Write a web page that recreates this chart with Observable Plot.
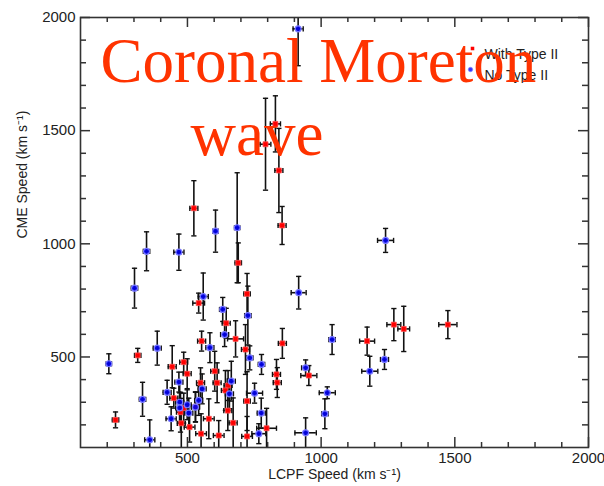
<!DOCTYPE html>
<html>
<head>
<meta charset="utf-8">
<script src="https://cdn.jsdelivr.net/npm/d3@7"></script>
<script src="https://cdn.jsdelivr.net/npm/@observablehq/plot@0.6"></script>
<style>
  html, body { margin: 0; padding: 0; background: white; }
  #chart { width: 604px; height: 486px; }
</style>
</head>
<body>
<div id="chart"></div>
<script>
// ---- Data: With Type II (red) ----
const withX    = [829, 792, 842, 854, 524, 690, 723, 542, 645, 680, 553, 717, 855, 314, 231, 443, 486, 499, 449, 474, 477, 508, 551, 549, 611, 652, 642, 486, 580, 617, 651, 671, 723, 723, 796, 833, 836, 954, 1172, 1272, 1309, 1474, 602, 530];
const withY    = [1530, 1440, 1324, 1081, 1157, 916, 779, 738, 649, 580, 570, 533, 560, 507, 222, 457, 477, 426, 318, 256, 207, 190, 161, 386, 386, 374, 352, 274, 227, 153, 263, 209, 305, 149, 185, 423, 387, 418, 570, 643, 624, 643, 437, 280];
const withXerr = [19, 20, 15, 15, 15, 12, 12, 22, 15, 30, 15, 15, 15, 12, 12, 15, 15, 15, 15, 15, 15, 20, 20, 15, 15, 15, 15, 15, 20, 20, 15, 15, 12, 20, 37, 15, 15, 30, 28, 26, 22, 34, 15, 15];
const withYerr = [124, 203, 186, 84, 122, 88, 90, 44, 66, 80, 44, 110, 66, 31, 35, 93, 44, 66, 44, 88, 110, 66, 88, 66, 88, 66, 88, 66, 88, 66, 88, 110, 130, 88, 88, 66, 66, 44, 62, 71, 100, 62, 88, 66];

// ---- Data: No Type II (blue) ----
const noX    = [914, 605, 686, 347, 468, 302, 559, 632, 726, 639, 916, 1241, 387, 206, 332, 359, 584, 733, 777, 424, 468, 471, 499, 505, 439, 542, 555, 664, 657, 751, 776, 767, 530, 942, 1041, 1182, 1237, 1023, 1014, 942, 471];
const noY    = [1950, 1056, 1071, 967, 963, 804, 767, 710, 683, 599, 784, 1015, 539, 470, 313, 134, 541, 496, 467, 344, 389, 300, 289, 252, 227, 308, 359, 393, 337, 340, 252, 161, 278, 452, 577, 437, 489, 342, 249, 165, 275];
const noXerr = [19, 10, 10, 12, 19, 12, 19, 12, 12, 15, 28, 30, 15, 10, 12, 19, 15, 12, 12, 15, 15, 15, 15, 15, 19, 15, 15, 15, 15, 30, 15, 26, 15, 15, 12, 30, 15, 30, 12, 40, 15];
const noYerr = [163, 93, 243, 86, 80, 88, 104, 53, 130, 53, 72, 53, 75, 44, 75, 88, 66, 53, 44, 53, 44, 88, 66, 66, 53, 66, 66, 88, 66, 44, 66, 44, 66, 35, 66, 66, 44, 26, 66, 66, 66];

// ---- Axis ticks / labels ----
const xMajor = [500, 1000, 1500, 2000];
const xMinor = [200, 300, 400, 600, 700, 800, 900, 1100, 1200, 1300, 1400, 1600, 1700, 1800, 1900];
const yMajor = [500, 1000, 1500, 2000];
const yMinor = [200, 300, 400, 600, 700, 800, 900, 1100, 1200, 1300, 1400, 1600, 1700, 1800, 1900];
const xTitle = "LCPF Speed (km s\u207B\u00B9)";
const yTitle = "CME Speed (km s\u207B\u00B9)";
const legendLabels = ["With Type II", "No Type II"];
const overlayLines = ["Coronal Moreton", "wave"];

// build records
const withData = withX.map((x, i) => ({x, y: withY[i], xe: withXerr[i], ye: withYerr[i]}));
const noData = noX.map((x, i) => ({x, y: noY[i], xe: noXerr[i], ye: noYerr[i]}));
const allData = withData.concat(noData);

// cap symbols
const capH = {draw(ctx, size) { const r = Math.sqrt(size / Math.PI); ctx.moveTo(-r, 0); ctx.lineTo(r, 0); }};
const capV = {draw(ctx, size) { const r = Math.sqrt(size / Math.PI); ctx.moveTo(0, -r); ctx.lineTo(0, r); }};

const W = 604, H = 486, ML = 80, MR = 16, MT = 17, MB = 39;
const IW = W - ML - MR, IH = H - MT - MB;
const ink = "#222";

const chart = Plot.plot({
  width: W, height: H,
  marginLeft: ML, marginRight: MR, marginTop: MT, marginBottom: MB,
  style: {fontFamily: "'Liberation Sans', Arial, sans-serif", fontSize: "15px", color: ink, background: "white", overflow: "visible"},
  x: {domain: [100, 2000]},
  y: {domain: [100, 2000]},
  marks: [
    // error bars
    Plot.ruleX(allData, {x: "x", y1: d => d.y - d.ye, y2: d => d.y + d.ye, stroke: "#111", strokeWidth: 1.6, clip: true}),
    Plot.ruleY(allData, {y: "y", x1: d => d.x - d.xe, x2: d => d.x + d.xe, stroke: "#111", strokeWidth: 1.6, clip: true}),
    Plot.dot(allData, {x: "x", y: d => d.y + d.ye, symbol: capH, r: 2.6, stroke: "#111", fill: "none", strokeWidth: 1.4, clip: true}),
    Plot.dot(allData, {x: "x", y: d => d.y - d.ye, symbol: capH, r: 2.6, stroke: "#111", fill: "none", strokeWidth: 1.4, clip: true}),
    Plot.dot(allData, {x: d => d.x - d.xe, y: "y", symbol: capV, r: 2.6, stroke: "#111", fill: "none", strokeWidth: 1.4, clip: true}),
    Plot.dot(allData, {x: d => d.x + d.xe, y: "y", symbol: capV, r: 2.6, stroke: "#111", fill: "none", strokeWidth: 1.4, clip: true}),
    // points
    Plot.dot(withData, {x: "x", y: "y", symbol: "square", r: 2.8, fill: "#ff0000", stroke: "#ff5050", strokeWidth: 0.8}),
    Plot.dot(noData, {x: "x", y: "y", r: 3, fill: "#0000ee", stroke: "#7b7bff", strokeWidth: 1.2, fillOpacity: 0.9}),
    // frame
    Plot.frame({stroke: "#333", strokeWidth: 1.6}),
    // ticks (inward, mirrored)
    Plot.tickX(xMajor, {x: d => d, insetTop: IH - 10, stroke: "#333", strokeWidth: 1.5}),
    Plot.tickX(xMinor, {x: d => d, insetTop: IH - 5, stroke: "#333", strokeWidth: 1.5}),
    Plot.tickX(xMajor, {x: d => d, insetBottom: IH - 10, stroke: "#333", strokeWidth: 1.5}),
    Plot.tickX(xMinor, {x: d => d, insetBottom: IH - 5, stroke: "#333", strokeWidth: 1.5}),
    Plot.tickY(yMajor, {y: d => d, insetRight: IW - 10, stroke: "#333", strokeWidth: 1.5}),
    Plot.tickY(yMinor, {y: d => d, insetRight: IW - 6, stroke: "#333", strokeWidth: 1.5}),
    Plot.tickY(yMajor, {y: d => d, insetLeft: IW - 10, stroke: "#333", strokeWidth: 1.5}),
    Plot.tickY(yMinor, {y: d => d, insetLeft: IW - 6, stroke: "#333", strokeWidth: 1.5}),
    // tick labels
    Plot.axisX({ticks: xMajor, tickSize: 0, tickPadding: 5, tickFormat: d => String(d), label: null, fontSize: 15}),
    Plot.axisY({ticks: yMajor, tickSize: 0, tickPadding: 5, tickFormat: d => String(d), label: null, fontSize: 15}),
    // axis titles
    Plot.text([xTitle], {text: d => d, frameAnchor: "bottom", dy: 31, fontSize: 14, fill: ink}),
    Plot.text([yTitle], {text: d => d, frameAnchor: "left", dx: -58, dy: 6, rotate: -90, fontSize: 14, fill: ink}),
    // legend
    Plot.dot([legendLabels[0]], {frameAnchor: "top-left", dx: 392, dy: 31, symbol: "square", r: 2, fill: "#ff0000"}),
    Plot.dot([legendLabels[1]], {frameAnchor: "top-left", dx: 390, dy: 52, r: 2.2, fill: "#3333ff", stroke: "#8888ff", strokeWidth: 0.8}),
    Plot.text([legendLabels[0]], {text: d => d, frameAnchor: "top-left", dx: 404, dy: 32, textAnchor: "start", fontSize: 14, fill: ink}),
    Plot.text([legendLabels[1]], {text: d => d, frameAnchor: "top-left", dx: 404, dy: 53, textAnchor: "start", fontSize: 14, fill: ink}),
    // overlay title
    Plot.text([overlayLines[0]], {text: d => d, frameAnchor: "top-left", dx: 20, dy: 20, lineAnchor: "top", textAnchor: "start", fontSize: 63, fontFamily: "'Liberation Serif', 'Times New Roman', serif", fill: "#ff3300"}),
    Plot.text([overlayLines[1]], {text: d => d, frameAnchor: "top-left", dx: 110, dy: 93, lineAnchor: "top", textAnchor: "start", fontSize: 63, fontFamily: "'Liberation Serif', 'Times New Roman', serif", fill: "#ff3300"})
  ]
});
document.getElementById("chart").appendChild(chart);
</script>
</body>
</html>
